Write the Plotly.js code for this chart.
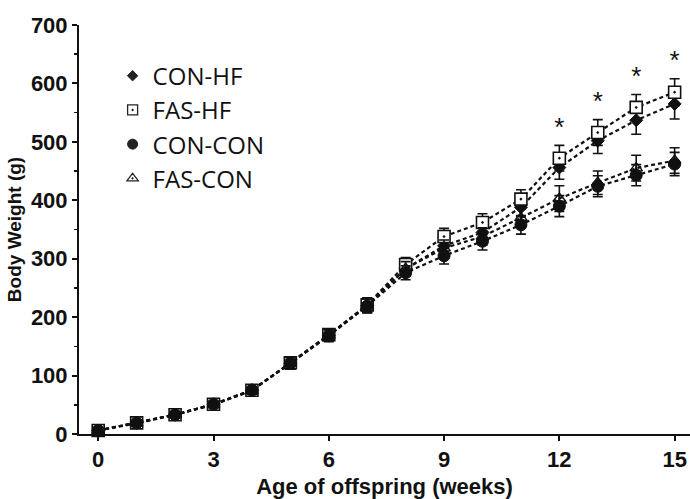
<!DOCTYPE html>
<html>
<head>
<meta charset="utf-8">
<script src="https://cdn.plot.ly/plotly-3.0.1.min.js"></script>
<style>html,body{margin:0;padding:0;background:#fff;}#chart{width:690px;height:499px;}</style>
</head>
<body>
<div id="chart"></div>
<script>
const weeks = [0,1,2,3,4,5,6,7,8,9,10,11,12,13,14,15];
const conHF    = [6,19,33,51,75,121,169,220,283,322,345,388,456,502,537,565];
const fasHF    = [6,19,33,51,75,122,170,221,290,338,362,402,472,516,559,585];
const conCON   = [6,19,33,51,75,121,168,219,276,305,330,358,390,424,443,462];
const fasCON   = [6,18,33,50,74,121,169,220,283,318,338,370,403,430,455,468];
const conHFErr  = [3,4,4,5,6,10,10,12,12,14,14,16,20,22,24,26];
const fasHFErr  = [3,4,4,5,6,10,10,12,12,14,15,16,22,22,22,23];
const conCONErr = [3,4,4,5,6,10,10,12,12,14,15,16,18,18,18,20];
const fasCONErr = [3,4,4,5,6,10,10,12,12,14,15,16,22,20,22,22];
const seriesNames = ['CON-HF','FAS-HF','CON-CON','FAS-CON'];
const sigWeeks = [12,13,14,15];

const lineStyle = {color:'#111', width:2.2, dash:'4px,3px'};
const errStyle = (arr) => ({type:'data', array:arr, visible:true, color:'#111', thickness:1.6, width:5});

const markers = [
  {symbol:'diamond', size:10, color:'#111', line:{color:'#111', width:1}},
  {symbol:'square-dot', size:12, color:'#fff', line:{color:'#111', width:1.6}},
  {symbol:'circle', size:12, color:'#111', line:{color:'#111', width:1}},
  {symbol:'triangle-up-open-dot', size:11, color:'#111', line:{color:'#111', width:1.4}}
];
const legendMarkers = [
  {symbol:'diamond', size:8, color:'#222', line:{color:'#222', width:1}},
  {symbol:'square-dot', size:10, color:'#fff', line:{color:'#222', width:1.3}},
  {symbol:'circle', size:10, color:'#222', line:{color:'#222', width:1}},
  {symbol:'triangle-up-open-dot', size:10, color:'#222', line:{color:'#222', width:1.2}}
];
const seriesY = [conHF, fasHF, conCON, fasCON];
const seriesErr = [conHFErr, fasHFErr, conCONErr, fasCONErr];

const traces = [];
seriesNames.forEach((name, k) => {
  traces.push({x:weeks, y:seriesY[k], name:name, type:'scatter', mode:'lines+markers',
    line:lineStyle, marker:markers[k], error_y:errStyle(seriesErr[k]), cliponaxis:false, showlegend:false});
});
// legend entries (markers only, as in the reference)
seriesNames.forEach((name, k) => {
  traces.push({x:[null], y:[null], name:name, type:'scatter', mode:'markers', marker:legendMarkers[k], showlegend:true});
});

// significance asterisks above FAS-HF error bars
const starX = [], starY = [];
sigWeeks.forEach(w => { const i = weeks.indexOf(w); starX.push(w); starY.push(fasHF[i] + fasHFErr[i] + 28); });
traces.push({x:starX, y:starY, type:'scatter', mode:'text', text:starX.map(()=>'*'),
  textfont:{family:'Liberation Sans, Arial, sans-serif', size:26, color:'#111'}, showlegend:false, hoverinfo:'skip', cliponaxis:false});

const layout = {
  width:690, height:499,
  margin:{l:79, r:0, t:25, b:65},
  paper_bgcolor:'#fff', plot_bgcolor:'#fff',
  showlegend:true,
  legend:{x:0.055, y:0.93, xanchor:'left', yanchor:'top', bgcolor:'rgba(0,0,0,0)',
    font:{family:'Open Sans, sans-serif', size:24, color:'#111'}, tracegroupgap:0, itemwidth:30},
  xaxis:{range:[-0.5,15.4], tickvals:[0,3,6,9,12,15], ticks:'outside', ticklen:5, tickwidth:2, tickcolor:'#111',
    showline:true, linecolor:'#111', linewidth:2, showgrid:false, zeroline:false,
    tickfont:{family:'Liberation Sans, Arial, sans-serif', size:22, color:'#111', weight:'bold'},
    title:{text:'<b>Age of offspring (weeks)</b>', font:{family:'Liberation Sans, Arial, sans-serif', size:22, color:'#111'}, standoff:11}},
  yaxis:{range:[0,700], dtick:100, ticks:'outside', ticklen:5, tickwidth:2, tickcolor:'#111',
    minor:{dtick:50, ticks:'outside', ticklen:3, tickwidth:1.5, tickcolor:'#111'},
    showline:true, linecolor:'#111', linewidth:2, showgrid:false, zeroline:false,
    tickfont:{family:'Liberation Sans, Arial, sans-serif', size:22, color:'#111', weight:'bold'},
    title:{text:'<b>Body Weight (g)</b>', font:{family:'Liberation Sans, Arial, sans-serif', size:19, color:'#111'}, standoff:4}}
};

Plotly.newPlot('chart', traces, layout, {displayModeBar:false, staticPlot:true});
</script>
</body>
</html>
